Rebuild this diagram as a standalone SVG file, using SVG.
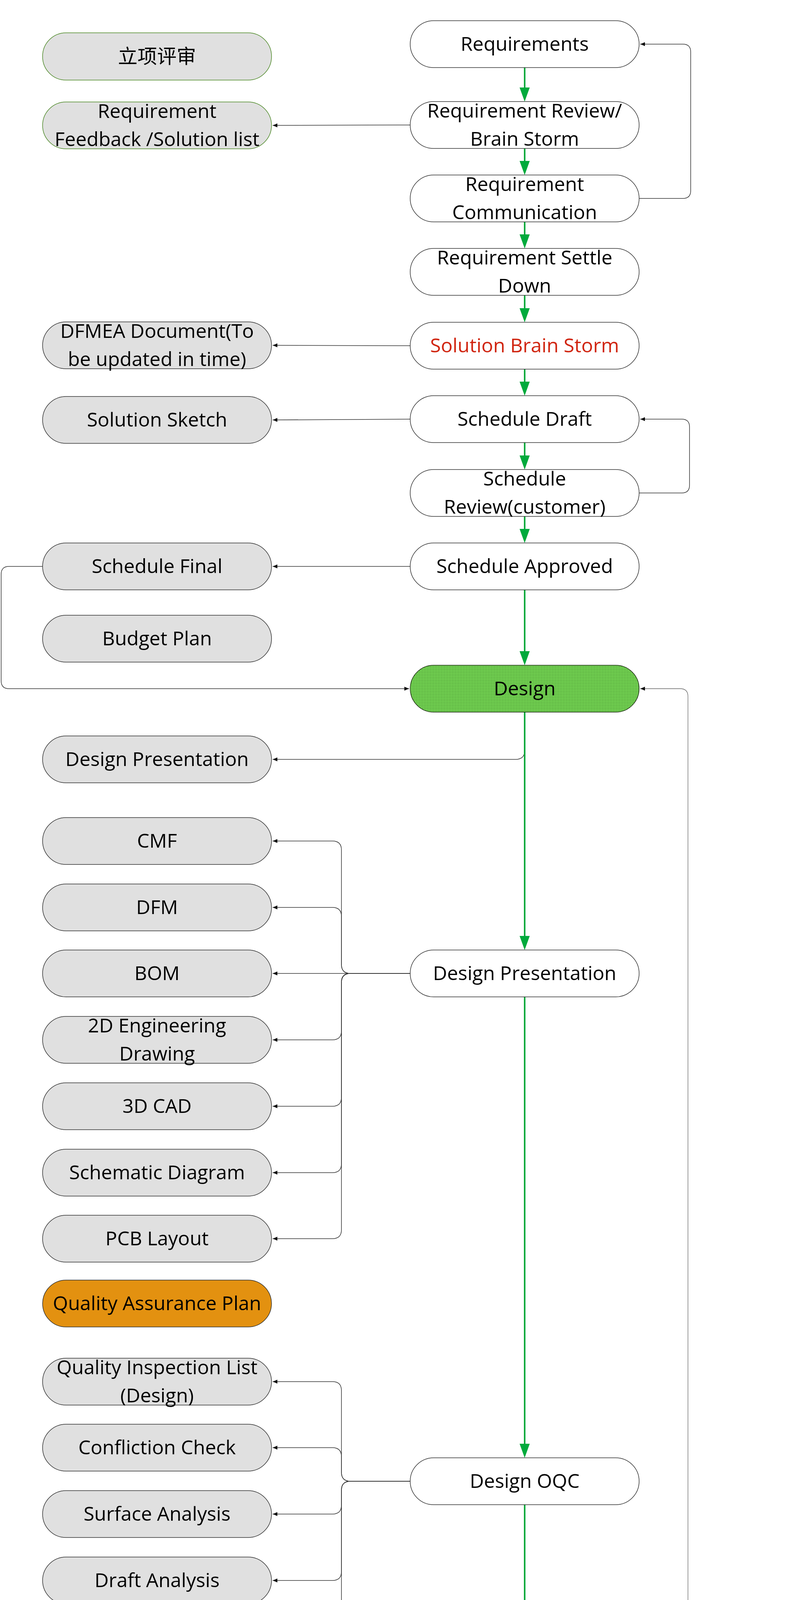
<svg xmlns="http://www.w3.org/2000/svg" width="2035" height="5332" viewBox="0 0 2035 5332">
<defs>
<style>
.n{stroke:#333;stroke-width:1.5}
.w{fill:#fff}
.g{fill:#e0e0e0}
.gb{stroke:#4f8a2a}
.o{fill:#e39110}
.d{fill:url(#dots);stroke:#1e2e14}
.t{font-family:"Open Sans","Noto Sans CJK SC",sans-serif;font-size:50px;text-anchor:middle;fill:#000}
.red{fill:#d0240f}
.c{fill:none;stroke:#333;stroke-width:1.5}
.cl{fill:none;stroke:#666;stroke-width:1.3}
.gr{fill:none;stroke:#00aa3c;stroke-width:4}
</style>
<pattern id="dots" width="4" height="4" patternUnits="userSpaceOnUse">
<rect width="4" height="4" fill="#78dc56"/>
<circle cx="2" cy="2" r="0.95" fill="#2c5c1c"/>
</pattern>
<marker id="ab" markerUnits="userSpaceOnUse" markerWidth="12" markerHeight="10" refX="12" refY="5" orient="auto">
<path d="M0,0 L12,5 L0,10 z" fill="#111"/>
</marker>
<marker id="ag" markerUnits="userSpaceOnUse" markerWidth="36" markerHeight="26" refX="4" refY="13" orient="auto">
<path d="M0,0 L36,13 L0,26 z" fill="#00aa3c"/>
</marker>
</defs>
<rect width="2035" height="5332" fill="#fff"/>

<g id="connectors">
<!-- green main flow -->
<path class="gr" marker-end="url(#ag)" d="M1343 173 V228"/>
<path class="gr" marker-end="url(#ag)" d="M1343 380 V416"/>
<path class="gr" marker-end="url(#ag)" d="M1343 568 V604"/>
<path class="gr" marker-end="url(#ag)" d="M1343 756 V793"/>
<path class="gr" marker-end="url(#ag)" d="M1343 945 V981"/>
<path class="gr" marker-end="url(#ag)" d="M1343 1133 V1170"/>
<path class="gr" marker-end="url(#ag)" d="M1343 1322 V1358"/>
<path class="gr" marker-end="url(#ag)" d="M1343 1510 V1671"/>
<path class="c" d="M1343 1823 V1921 Q1343 1944 1320 1944 H698" marker-end="url(#ab)"/>
<path class="gr" marker-end="url(#ag)" d="M1343 1823 V2400"/>
<path class="gr" marker-end="url(#ag)" d="M1343 2552 V3700"/>
<path class="gr" marker-end="url(#ag)" d="M1343 3852 V4375"/>
<path class="gr" marker-end="url(#ag)" d="M1343 4527 V4543"/>
<path class="gr" marker-end="url(#ag)" d="M1343 4695 V4730"/>
<path class="gr" marker-end="url(#ag)" d="M1343 4882 V4909"/>
<path class="gr" marker-end="url(#ag)" d="M1343 5061 V5106"/>
<path d="M1638 5198 H2035" fill="none" stroke="#5cc376" stroke-width="8" stroke-linecap="round"/>

<!-- side outputs -->
<path class="c" marker-end="url(#ab)" d="M1050 320 L698 321"/>
<path class="c" marker-end="url(#ab)" d="M1050 885 L698 884"/>
<path class="c" marker-end="url(#ab)" d="M1050 1073 L698 1075"/>
<path class="c" marker-end="url(#ab)" d="M1050 1450 H698"/>
<path class="c" marker-end="url(#ab)" d="M1050 4467 H698"/>
<path class="c" marker-end="url(#ab)" d="M1050 4635 H698"/>
<path class="c" marker-end="url(#ab)" d="M1050 5198 H698"/>

<!-- loops -->
<path class="c" marker-end="url(#ab)" d="M1636 508 H1748 Q1768 508 1768 488 V133 Q1768 113 1748 113 H1639"/>
<path class="c" marker-end="url(#ab)" d="M1636 1262 H1745 Q1765 1262 1765 1242 V1093 Q1765 1073 1745 1073 H1639"/>
<path class="c" marker-end="url(#ab)" d="M109 1450 H23 Q3 1450 3 1470 V1743 Q3 1763 23 1763 H1047"/>
<path class="cl" d="M1636 4467 H1741 Q1761 4467 1761 4447 V1783 Q1761 1763 1741 1763 H1639" marker-end="url(#ab)"/>
<path class="cl" d="M1636 5001 H1741 Q1761 5001 1761 4981 V4467"/>

<!-- Design Presentation branches -->
<path class="c" marker-end="url(#ab)" d="M1050 2492 H897 Q874 2492 874 2469 V2176 Q874 2153 851 2153 H698"/>
<path class="c" marker-end="url(#ab)" d="M1050 2492 H897 Q874 2492 874 2469 V2346 Q874 2323 851 2323 H698"/>
<path class="c" marker-end="url(#ab)" d="M1050 2492 H698"/>
<path class="c" marker-end="url(#ab)" d="M1050 2492 H897 Q874 2492 874 2515 V2639 Q874 2662 851 2662 H698"/>
<path class="c" marker-end="url(#ab)" d="M1050 2492 H897 Q874 2492 874 2515 V2809 Q874 2832 851 2832 H698"/>
<path class="c" marker-end="url(#ab)" d="M1050 2492 H897 Q874 2492 874 2515 V2979 Q874 3002 851 3002 H698"/>
<path class="c" marker-end="url(#ab)" d="M1050 2492 H897 Q874 2492 874 2515 V3148 Q874 3171 851 3171 H698"/>

<!-- Design OQC branches -->
<path class="c" marker-end="url(#ab)" d="M1050 3792 H897 Q874 3792 874 3769 V3560 Q874 3537 851 3537 H698"/>
<path class="c" marker-end="url(#ab)" d="M1050 3792 H897 Q874 3792 874 3769 V3729 Q874 3706 851 3706 H698"/>
<path class="c" marker-end="url(#ab)" d="M1050 3792 H897 Q874 3792 874 3815 V3853 Q874 3876 851 3876 H698"/>
<path class="c" marker-end="url(#ab)" d="M1050 3792 H897 Q874 3792 874 3815 V4023 Q874 4046 851 4046 H698"/>
<path class="c" marker-end="url(#ab)" d="M1050 3792 H897 Q874 3792 874 3815 V4206 Q874 4229 851 4229 H698"/>
</g>

<!-- right column -->
<g id="requirements"><rect class="n w" x="1050" y="53" width="586" height="120" rx="60"/><text class="t" x="1343" y="130">Requirements</text></g>
<g id="req-review"><rect class="n w" x="1050" y="260" width="586" height="120" rx="60"/><text class="t" x="1343" y="301">Requirement Review/</text><text class="t" x="1343" y="373">Brain Storm</text></g>
<g id="req-comm"><rect class="n w" x="1050" y="448" width="586" height="120" rx="60"/><text class="t" x="1343" y="489">Requirement</text><text class="t" x="1343" y="561">Communication</text></g>
<g id="req-settle"><rect class="n w" x="1050" y="636" width="586" height="120" rx="60"/><text class="t" x="1343" y="677">Requirement Settle</text><text class="t" x="1343" y="749">Down</text></g>
<g id="solution-bs"><rect class="n w" x="1050" y="825" width="586" height="120" rx="60"/><text class="t red" x="1343" y="902">Solution Brain Storm</text></g>
<g id="schedule-draft"><rect class="n w" x="1050" y="1013" width="586" height="120" rx="60"/><text class="t" x="1343" y="1090">Schedule Draft</text></g>
<g id="schedule-review"><rect class="n w" x="1050" y="1202" width="586" height="120" rx="60"/><text class="t" x="1343" y="1243">Schedule</text><text class="t" x="1343" y="1315">Review(customer)</text></g>
<g id="schedule-approved"><rect class="n w" x="1050" y="1390" width="586" height="120" rx="60"/><text class="t" x="1343" y="1467">Schedule Approved</text></g>
<g id="design"><rect class="n d" x="1050" y="1703" width="586" height="120" rx="60"/><text class="t" x="1343" y="1780">Design</text></g>
<g id="design-presentation-r"><rect class="n w" x="1050" y="2432" width="586" height="120" rx="60"/><text class="t" x="1343" y="2509">Design Presentation</text></g>
<g id="design-oqc"><rect class="n w" x="1050" y="3732" width="586" height="120" rx="60"/><text class="t" x="1343" y="3809">Design OQC</text></g>
<g id="design-review"><rect class="n w" x="1050" y="4407" width="586" height="120" rx="60"/><text class="t" x="1343" y="4484">Design Review</text></g>
<g id="design-done"><rect class="n w" x="1050" y="4575" width="586" height="120" rx="60"/><text class="t" x="1343" y="4616">Design</text><text class="t" x="1343" y="4688">Done(Temporary)</text></g>
<g id="customer-review"><rect class="n w" x="1050" y="4762" width="586" height="120" rx="60"/><text class="t" x="1343" y="4839">Customer Review</text></g>
<g id="design-opt-ext"><rect class="n w" x="1050" y="4941" width="586" height="120" rx="60"/><text class="t" x="1343" y="4982">Design</text><text class="t" x="1343" y="5054">Optimising(External.)</text></g>
<g id="design-approval"><rect class="n w" x="1050" y="5138" width="586" height="120" rx="60"/><text class="t" x="1343" y="5179">Design</text><text class="t" x="1343" y="5251">Approval (Phase 1)</text></g>

<!-- left column -->
<g id="project-review"><rect class="n g gb" x="109" y="84" width="586" height="121" rx="60"/><text class="t" x="402" y="162">立项评审</text></g>
<g id="req-feedback"><rect class="n g gb" x="109" y="261" width="586" height="120" rx="60"/><text class="t" x="402" y="302">Requirement</text><text class="t" x="402" y="374">Feedback /Solution list</text></g>
<g id="dfmea"><rect class="n g" x="109" y="824" width="586" height="120" rx="60"/><text class="t" x="402" y="865">DFMEA Document(To</text><text class="t" x="402" y="937">be updated in time)</text></g>
<g id="solution-sketch"><rect class="n g" x="109" y="1015" width="586" height="120" rx="60"/><text class="t" x="402" y="1092">Solution Sketch</text></g>
<g id="schedule-final"><rect class="n g" x="109" y="1390" width="586" height="120" rx="60"/><text class="t" x="402" y="1467">Schedule Final</text></g>
<g id="budget-plan"><rect class="n g" x="109" y="1575" width="586" height="120" rx="60"/><text class="t" x="402" y="1652">Budget Plan</text></g>
<g id="design-presentation-l"><rect class="n g" x="109" y="1884" width="586" height="120" rx="60"/><text class="t" x="402" y="1961">Design Presentation</text></g>
<g id="cmf"><rect class="n g" x="109" y="2093" width="586" height="120" rx="60"/><text class="t" x="402" y="2170">CMF</text></g>
<g id="dfm"><rect class="n g" x="109" y="2263" width="586" height="120" rx="60"/><text class="t" x="402" y="2340">DFM</text></g>
<g id="bom"><rect class="n g" x="109" y="2432" width="586" height="120" rx="60"/><text class="t" x="402" y="2509">BOM</text></g>
<g id="eng-drawing"><rect class="n g" x="109" y="2602" width="586" height="120" rx="60"/><text class="t" x="402" y="2643">2D Engineering</text><text class="t" x="402" y="2715">Drawing</text></g>
<g id="cad3d"><rect class="n g" x="109" y="2772" width="586" height="120" rx="60"/><text class="t" x="402" y="2849">3D CAD</text></g>
<g id="schematic"><rect class="n g" x="109" y="2942" width="586" height="120" rx="60"/><text class="t" x="402" y="3019">Schematic Diagram</text></g>
<g id="pcb"><rect class="n g" x="109" y="3111" width="586" height="120" rx="60"/><text class="t" x="402" y="3188">PCB Layout</text></g>
<g id="qap"><rect class="n o" x="109" y="3277" width="586" height="120" rx="60"/><text class="t" x="402" y="3354">Quality Assurance Plan</text></g>
<g id="qil"><rect class="n g" x="109" y="3477" width="586" height="120" rx="60"/><text class="t" x="402" y="3518">Quality Inspection List</text><text class="t" x="402" y="3590">(Design)</text></g>
<g id="confliction"><rect class="n g" x="109" y="3646" width="586" height="120" rx="60"/><text class="t" x="402" y="3723">Confliction Check</text></g>
<g id="surface"><rect class="n g" x="109" y="3816" width="586" height="120" rx="60"/><text class="t" x="402" y="3893">Surface Analysis</text></g>
<g id="draft"><rect class="n g" x="109" y="3986" width="586" height="120" rx="60"/><text class="t" x="402" y="4063">Draft Analysis</text></g>
<g id="cae"><rect class="n g" x="109" y="4169" width="586" height="120" rx="60"/><text class="t" x="402" y="4246">CAE Report</text></g>
<g id="opt-list"><rect class="n g gb" x="109" y="4407" width="586" height="120" rx="60"/><text class="t" x="402" y="4484">Design Optimising List</text></g>
<g id="approval-sheet"><rect class="n g gb" x="109" y="4575" width="586" height="120" rx="60"/><text class="t" x="402" y="4616">Design Approval</text><text class="t" x="402" y="4688">Sheet</text></g>
<g id="customer-approval"><rect class="n g" x="109" y="5138" width="586" height="120" rx="60"/><text class="t" x="402" y="5179">Customer Approval</text><text class="t" x="402" y="5251">Document</text></g>
</svg>
